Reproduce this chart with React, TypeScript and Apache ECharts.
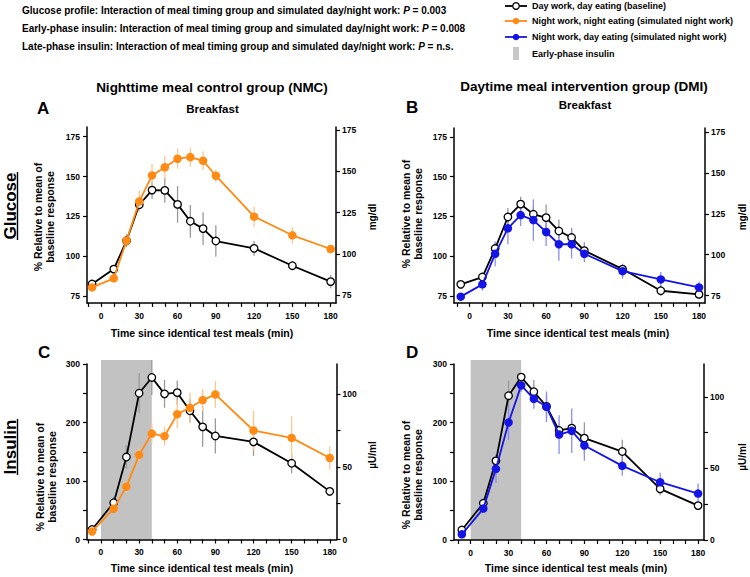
import React, { useEffect, useRef } from "react";
import * as echarts from "echarts";

const times = [-7, 10, 20, 30, 40, 50, 60, 70, 80, 90, 120, 150, 180];

// Panel A: glucose, nighttime meal control group
const gluA_day = [82.5, 91.9, 109.7, 132.3, 141.5, 141.3, 132.5, 121.9, 117.3, 109.5, 104.9, 94, 84];
const gluA_dayErr = [2, 2.5, 4, 3, 5.6, 7.8, 11.5, 10.3, 10.3, 9.9, 4.6, 2.6, 4.2];
const gluA_night = [80.4, 86.1, 109.7, 134.4, 150.7, 155.8, 161.2, 162.2, 159.9, 150.5, 124.8, 113.1, 104.5];
const gluA_nightErr = [2, 2, 3, 6.8, 7.3, 7.3, 6.3, 6, 5.8, 3.9, 6.3, 5.2, 2.6];

// Panel B: glucose, daytime meal intervention group
const gluB_day = [82.3, 86.9, 104.8, 124.6, 132.7, 126.3, 124.2, 115.8, 111.7, 103.5, 91.9, 78.3, 76];
const gluB_dayErr = [2, 2, 3.6, 5.7, 4.7, 4.7, 8.3, 7.3, 6.2, 5.2, 2.6, 3.1, 2];
const gluB_night = [74.6, 82.3, 101.5, 117.5, 125.8, 122.7, 115.2, 107.5, 107.5, 101.5, 90.6, 85.4, 80.4];
const gluB_nightErr = [2, 4, 7.8, 10, 6.8, 13, 8.8, 10.4, 9, 5.2, 4.7, 4.7, 3.6];

// Panel C: insulin, nighttime meal control group
const insC_day = [17.1, 62.9, 141, 250, 277, 249, 251, 220, 192.6, 177, 166.9, 130.3, 82.3];
const insC_dayErr = [5, 10, 20, 34, 30, 24, 21, 20, 34, 30, 24, 17, 7];
const insC_night = [13.7, 52.6, 90.3, 144.6, 181.1, 176.6, 214.3, 225.1, 238.3, 248, 186.3, 173.7, 139.4];
const insC_nightErr = [4, 5, 10, 11, 17, 16, 24, 26, 19, 23, 34, 37, 20];

// Panel D: insulin, daytime meal intervention group
const insD_day = [17.1, 62.6, 134.9, 245.9, 277.7, 252.7, 227.7, 186.7, 190.7, 173.6, 150.8, 87.1, 58.6];
const insD_dayErr = [4, 6, 11, 26, 7, 20, 20, 10, 13, 27, 20, 11, 5];
const insD_night = [9.7, 53.5, 121.2, 200.3, 263.5, 240.7, 227.1, 179.8, 186.1, 161.1, 126.4, 98.5, 79.1];
const insD_nightErr = [3, 6, 24, 30, 11, 17, 26, 33, 38, 26, 17, 16, 17];

// Early-phase insulin window (min) and its drawn top (% scale)
const earlyPhase = [0, 40, 307];

const xTicks = [-10, 0, 10, 20, 30, 40, 50, 60, 70, 80, 90, 100, 110, 120, 130, 140, 150, 160, 170, 180];
const xLabels = [0, 30, 60, 90, 120, 150, 180];
const gluTicks = [75, 100, 125, 150, 175];
const insLeftTicks = [0, 50, 100, 150, 200, 250, 300];
const insLeftLabels = [0, 100, 200, 300];
const insRightTicks = [0, 25, 50, 75, 100];
const insRightLabels = [0, 50, 100];

const FONT = '"Liberation Sans", Arial, Helvetica, sans-serif';
const BLACK = "#000000";
const ORANGE = "#FF8A14";
const BLUE = "#1414E6";
const ERR_BLACK = "#9a9a9a";
const ERR_ORANGE = "#FFC68E";
const ERR_BLUE = "#8C8CF5";

function xAxis(gridIndex: number, min: number, max: number) {
  return {
    type: "value",
    gridIndex,
    min,
    max,
    splitLine: { show: false },
    axisLine: { show: true, onZero: false, lineStyle: { color: BLACK, width: 1.5 } },
    axisTick: { show: true, length: 4, customValues: xTicks, lineStyle: { color: BLACK, width: 1.2 } },
    axisLabel: {
      customValues: xLabels,
      margin: 8,
      color: BLACK,
      fontSize: 8.5,
      fontWeight: "bold",
      fontFamily: FONT,
    },
  };
}

function yAxis(gridIndex: number, min: number, max: number, position: string, ticks: number[], labels: number[]) {
  return {
    type: "value",
    gridIndex,
    min,
    max,
    position,
    splitLine: { show: false },
    axisLine: { show: true, onZero: false, lineStyle: { color: BLACK, width: 1.5 } },
    axisTick: { show: true, length: 4, customValues: ticks, lineStyle: { color: BLACK, width: 1.2 } },
    axisLabel: {
      customValues: labels,
      margin: position === "left" ? 7 : 6,
      color: BLACK,
      fontSize: 8.5,
      fontWeight: "bold",
      fontFamily: FONT,
    },
  };
}

function errSeries(axis: number, vals: number[], errs: number[], color: string) {
  return {
    type: "custom",
    xAxisIndex: axis,
    yAxisIndex: axis * 2,
    z: 1,
    silent: true,
    clip: false,
    encode: { x: 0, y: 1 },
    data: times.map((t, i) => [t, vals[i], errs[i]]),
    renderItem: (_p: any, api: any) => {
      const x = api.value(0);
      const y = api.value(1);
      const e = api.value(2);
      const a = api.coord([x, y - e]);
      const b = api.coord([x, y + e]);
      return {
        type: "line",
        shape: { x1: a[0], y1: a[1], x2: b[0], y2: b[1] },
        style: { stroke: color, lineWidth: 1.3 },
      };
    },
  };
}

function lineSeries(axis: number, name: string, vals: number[], color: string, open: boolean) {
  return {
    type: "line",
    name,
    xAxisIndex: axis,
    yAxisIndex: axis * 2,
    z: open ? 3 : 4,
    data: times.map((t, i) => [t, vals[i]]),
    symbol: "circle",
    symbolSize: open ? 7.5 : 8.5,
    lineStyle: { color, width: 1.8 },
    itemStyle: open
      ? { color: "#ffffff", borderColor: color, borderWidth: 1.3 }
      : { color, borderColor: color, borderWidth: 0 },
    emphasis: { disabled: true },
  };
}

function shadeSeries(axis: number) {
  return {
    type: "custom",
    xAxisIndex: axis,
    yAxisIndex: axis * 2,
    z: 0,
    silent: true,
    clip: false,
    encode: { x: 0, y: 2 },
    data: [earlyPhase],
    renderItem: (_p: any, api: any) => {
      const p0 = api.coord([api.value(0), 0]);
      const p1 = api.coord([api.value(1), api.value(2)]);
      return {
        type: "rect",
        shape: { x: p0[0], y: p1[1], width: p1[0] - p0[0], height: p0[1] - p1[1] },
        style: { fill: "#C2C2C2" },
      };
    },
  };
}

function txt(text: string, x: number, y: number, size: number, opts: any = {}) {
  return {
    type: "text",
    x,
    y,
    rotation: opts.rotation || 0,
    silent: true,
    style: {
      text,
      x: 0,
      y: 0,
      fill: BLACK,
      fontSize: size,
      fontWeight: opts.weight || "bold",
      fontFamily: FONT,
      align: opts.align || "left",
      verticalAlign: "middle",
      textAlign: opts.align || "left",
      textVerticalAlign: "middle",
      lineHeight: opts.lineHeight,
      rich: opts.rich,
    },
  };
}

const rot = Math.PI / 2;

function buildGraphic() {
  const g: any[] = [];
  const richP = { i: { fontStyle: "italic", fontWeight: "bold", fontSize: 10, fontFamily: FONT, fill: BLACK } };
  g.push(txt("Glucose profile: Interaction of meal timing group and simulated day/night work: {i|P} = 0.003", 22, 10, 10, { rich: richP }));
  g.push(txt("Early-phase insulin: Interaction of meal timing group and simulated day/night work: {i|P} = 0.008", 22, 28, 10, { rich: richP }));
  g.push(txt("Late-phase insulin: Interaction of meal timing group and simulated day/night work: {i|P} = n.s.", 22, 46.5, 10, { rich: richP }));

  // legend
  const legendRows = [
    { y: 6, color: BLACK, open: true, label: "Day work, day eating (baseline)" },
    { y: 21, color: ORANGE, open: false, label: "Night work, night eating (simulated night work)" },
    { y: 37, color: BLUE, open: false, label: "Night work, day eating (simulated night work)" },
  ];
  legendRows.forEach((r) => {
    g.push({ type: "line", silent: true, shape: { x1: 505, y1: r.y, x2: 527, y2: r.y }, style: { stroke: r.color, lineWidth: 1.8 } });
    g.push({
      type: "circle",
      silent: true,
      shape: { cx: 516, cy: r.y, r: 3.3 },
      style: r.open ? { fill: "#fff", stroke: r.color, lineWidth: 1.2 } : { fill: r.color },
    });
    g.push(txt(r.label, 532, r.y, 9));
  });
  g.push({ type: "rect", silent: true, shape: { x: 513, y: 47, width: 6, height: 13 }, style: { fill: "#C8C8C8" } });
  g.push(txt("Early-phase insulin", 532, 53.5, 9));

  // panel titles
  g.push(txt("Nighttime meal control group (NMC)", 212, 87, 13.5, { align: "center" }));
  g.push(txt("Daytime meal intervention group (DMI)", 584, 86, 13.5, { align: "center" }));
  g.push(txt("Breakfast", 212.5, 109, 11.5, { align: "center" }));
  g.push(txt("Breakfast", 585, 105, 11.5, { align: "center" }));
  g.push(txt("A", 37, 108, 17));
  g.push(txt("B", 406, 107, 17));
  g.push(txt("C", 38, 352, 17));
  g.push(txt("D", 406, 352, 17));

  // row labels (rotated, underlined)
  g.push(txt("Glucose", 10, 206, 17, { rotation: rot, align: "center" }));
  g.push({ type: "line", silent: true, shape: { x1: 17.5, y1: 172, x2: 17.5, y2: 240 }, style: { stroke: BLACK, lineWidth: 1.4 } });
  g.push(txt("Insulin", 10, 447, 17, { rotation: rot, align: "center" }));
  g.push({ type: "line", silent: true, shape: { x1: 17.5, y1: 419, x2: 17.5, y2: 475 }, style: { stroke: BLACK, lineWidth: 1.4 } });

  // y axis names
  const yName = "% Relative to mean of\nbaseline response";
  g.push(txt(yName, 44, 217, 10.5, { rotation: rot, align: "center", lineHeight: 11.5 }));
  g.push(txt(yName, 412, 214, 10.5, { rotation: rot, align: "center", lineHeight: 11.5 }));
  g.push(txt(yName, 46, 477, 10.5, { rotation: rot, align: "center", lineHeight: 11.5 }));
  g.push(txt(yName, 412, 475, 10.5, { rotation: rot, align: "center", lineHeight: 11.5 }));

  // right axis names
  g.push(txt("mg/dl", 372, 217, 10, { rotation: rot, align: "center" }));
  g.push(txt("mg/dl", 742, 217, 10, { rotation: rot, align: "center" }));
  g.push(txt("µU/ml", 372, 455, 10, { rotation: rot, align: "center" }));
  g.push(txt("µU/ml", 742, 457, 10, { rotation: rot, align: "center" }));

  // x axis names
  const xName = "Time since identical test meals (min)";
  g.push(txt(xName, 202, 333, 10.5, { align: "center" }));
  g.push(txt(xName, 578, 333, 10.5, { align: "center" }));
  g.push(txt(xName, 202, 568, 10.5, { align: "center" }));
  g.push(txt(xName, 576, 568, 10.5, { align: "center" }));
  return g;
}

export default function App() {
  const ref = useRef<HTMLDivElement>(null);
  useEffect(() => {
    document.body.style.margin = "0";
    if (!ref.current) return;
    const chart = echarts.init(ref.current, undefined, { renderer: "svg" });
    const option: any = {
      animation: false,
      backgroundColor: "#ffffff",
      grid: [
        { left: 87, top: 127, width: 249, height: 176 },
        { left: 454, top: 128, width: 251, height: 175 },
        { left: 87, top: 364, width: 249.5, height: 175.5 },
        { left: 454, top: 364, width: 250, height: 176 },
      ],
      xAxis: [
        xAxis(0, -11, 184.2),
        xAxis(1, -12.3, 184.7),
        xAxis(2, -11, 185.3),
        xAxis(3, -13.2, 184.7),
      ],
      yAxis: [
        yAxis(0, 70.6, 181.1, "left", gluTicks, gluTicks),
        yAxis(0, 70.3, 176.8, "right", gluTicks, gluTicks),
        yAxis(1, 70.6, 180.5, "left", gluTicks, gluTicks),
        yAxis(1, 70.5, 177.4, "right", gluTicks, gluTicks),
        yAxis(2, 0, 300, "left", insLeftTicks, insLeftLabels),
        yAxis(2, 0, 120.7, "right", insRightTicks, insRightLabels),
        yAxis(3, 0, 300, "left", insLeftTicks, insLeftLabels),
        yAxis(3, 0, 123, "right", insRightTicks, insRightLabels),
      ],
      series: [
        shadeSeries(2),
        shadeSeries(3),
        errSeries(0, gluA_day, gluA_dayErr, ERR_BLACK),
        errSeries(0, gluA_night, gluA_nightErr, ERR_ORANGE),
        errSeries(1, gluB_day, gluB_dayErr, ERR_BLACK),
        errSeries(1, gluB_night, gluB_nightErr, ERR_BLUE),
        errSeries(2, insC_day, insC_dayErr, ERR_BLACK),
        errSeries(2, insC_night, insC_nightErr, ERR_ORANGE),
        errSeries(3, insD_day, insD_dayErr, ERR_BLACK),
        errSeries(3, insD_night, insD_nightErr, ERR_BLUE),
        lineSeries(0, "Day work, day eating (baseline)", gluA_day, BLACK, true),
        lineSeries(0, "Night work, night eating (simulated night work)", gluA_night, ORANGE, false),
        lineSeries(1, "Day work, day eating (baseline)", gluB_day, BLACK, true),
        lineSeries(1, "Night work, day eating (simulated night work)", gluB_night, BLUE, false),
        lineSeries(2, "Day work, day eating (baseline)", insC_day, BLACK, true),
        lineSeries(2, "Night work, night eating (simulated night work)", insC_night, ORANGE, false),
        lineSeries(3, "Day work, day eating (baseline)", insD_day, BLACK, true),
        lineSeries(3, "Night work, day eating (simulated night work)", insD_night, BLUE, false),
      ],
      graphic: buildGraphic(),
    };
    chart.setOption(option);
    return () => chart.dispose();
  }, []);
  return <div ref={ref} style={{ position: "absolute", left: 0, top: 0, width: 750, height: 577 }} />;
}
